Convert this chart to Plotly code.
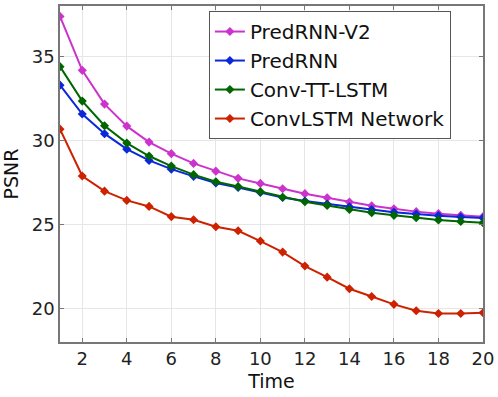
import plotly.graph_objects as go

time = list(range(1, 21))

predrnn_v2 = [37.38, 34.17, 32.16, 30.85, 29.90, 29.21, 28.63, 28.17, 27.74, 27.44,
              27.12, 26.83, 26.59, 26.33, 26.11, 25.93, 25.76, 25.64, 25.54, 25.46]
predrnn = [33.29, 31.57, 30.40, 29.48, 28.81, 28.29, 27.86, 27.46, 27.20, 26.90,
           26.60, 26.39, 26.21, 26.05, 25.89, 25.73, 25.61, 25.52, 25.44, 25.38]
conv_tt_lstm = [34.39, 32.34, 30.87, 29.84, 29.07, 28.47, 27.96, 27.54, 27.25, 26.95,
                26.62, 26.35, 26.13, 25.89, 25.69, 25.54, 25.40, 25.26, 25.18, 25.10]
convlstm = [30.67, 27.88, 26.98, 26.43, 26.07, 25.46, 25.28, 24.86, 24.62, 24.01,
            23.35, 22.52, 21.86, 21.17, 20.71, 20.24, 19.86, 19.70, 19.70, 19.74]

series = [
    ("PredRNN-V2", predrnn_v2, "#cc33cc"),
    ("PredRNN", predrnn, "#0a28d8"),
    ("Conv-TT-LSTM", conv_tt_lstm, "#006600"),
    ("ConvLSTM Network", convlstm, "#cc2200"),
]

fig = go.Figure()
for name, vals, col in series:
    fig.add_trace(go.Scatter(
        x=time, y=vals, name=name, mode="lines+markers",
        line=dict(color=col, width=2),
        marker=dict(color=col, size=7, symbol="diamond"),
    ))

axis_style = dict(
    showgrid=True, gridcolor="#e6e6e6", gridwidth=1,
    showline=True, linecolor="#777777", linewidth=1.5, mirror="ticks",
    ticks="inside", ticklen=4, tickcolor="#777777",
    zeroline=False, tickfont=dict(size=18, color="#222222"),
)

fig.update_xaxes(range=[1, 20], tickvals=list(range(2, 21, 2)),
                 title=dict(text="Time", font=dict(size=19, color="#111111"), standoff=6),
                 **axis_style)
fig.update_yaxes(range=[18, 38], tickvals=[20, 25, 30, 35],
                 title=dict(text="PSNR", font=dict(size=19, color="#111111"), standoff=10),
                 **axis_style)

fig.update_layout(
    width=498, height=397,
    margin=dict(l=60, r=15, t=6, b=55, autoexpand=False),
    paper_bgcolor="white", plot_bgcolor="white",
    font=dict(family="DejaVu Sans", color="#111111"),
    legend=dict(x=0.352, y=0.985, xanchor="left", yanchor="top",
                bgcolor="white", bordercolor="#555555", borderwidth=1,
                font=dict(size=20), tracegroupgap=0, itemwidth=30),
)

fig.write_html("out.html", config={"displayModeBar": False},
               post_script="document.body.style.margin='0';")
